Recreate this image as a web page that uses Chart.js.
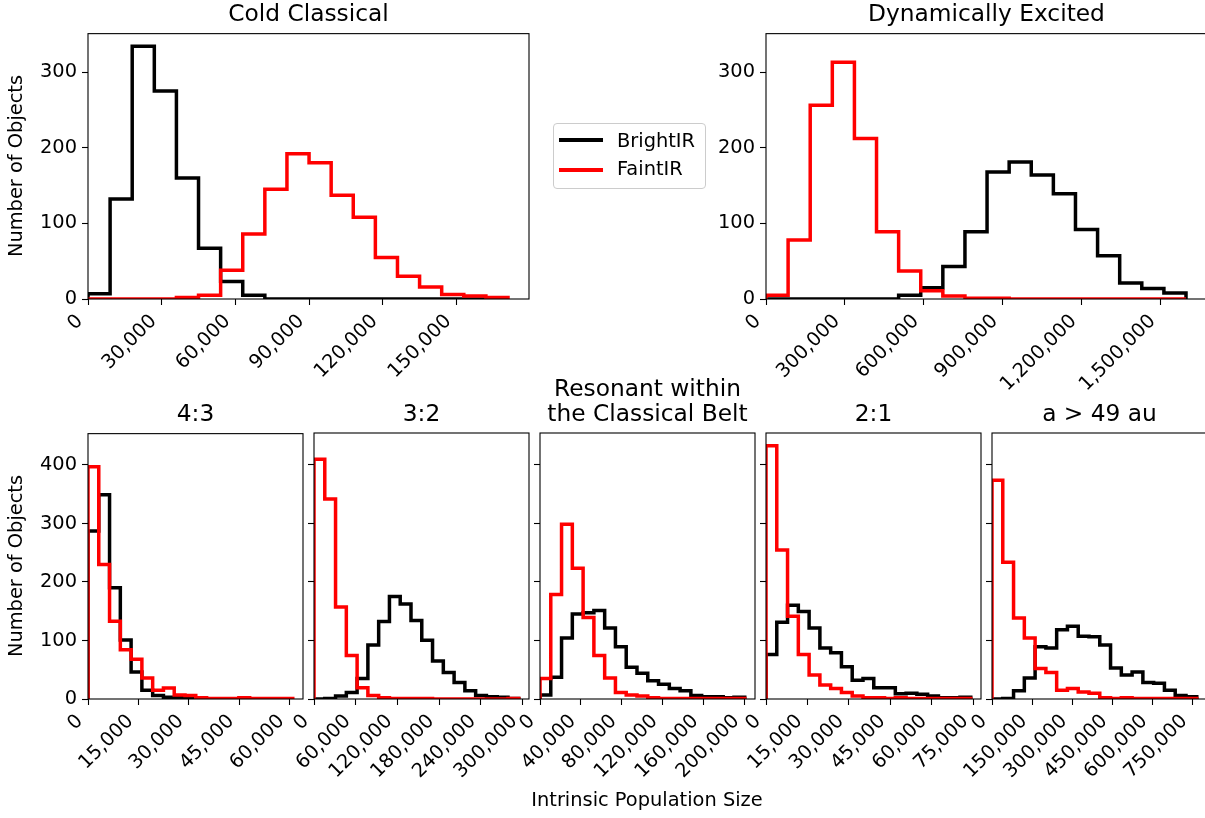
<!DOCTYPE html>
<html>
<head>
<meta charset="utf-8">
<script src="https://cdn.jsdelivr.net/npm/chart.js@4.4.1/dist/chart.umd.min.js"></script>
<style>
  html, body { margin: 0; padding: 0; background: #ffffff; overflow: hidden; }
  #fig { position: relative; width: 1205px; height: 818px; overflow: hidden; font-family: "DejaVu Sans", sans-serif; color: #000; }
  #fig canvas { position: absolute; }
  .txt { position: absolute; white-space: nowrap; line-height: 1; transform: translate(-50%, -50%); }
  .title { font-size: 23.3px; }
  .label { font-size: 19.4px; }
  .ylabel { transform: translate(-50%, -50%) rotate(-90deg); }
  #legend { position: absolute; left: 553px; top: 123px; width: 151px; height: 64px; border: 1px solid #cccccc; border-radius: 4px; background: rgba(255,255,255,0.8); z-index: 5; }
  #legend .handle { position: absolute; left: 5px; width: 44px; height: 4px; }
  #legend .entry { position: absolute; left: 63px; font-size: 19.4px; line-height: 1; transform: translateY(-50%); }
</style>
</head>
<body>
<div id="fig">
  <div id="legend">
    <div class="handle" style="top:14px;background:#000000"></div>
    <div class="entry" style="top:17px">BrightIR</div>
    <div class="handle" style="top:44px;background:#ff0000"></div>
    <div class="entry" style="top:45px">FaintIR</div>
  </div>
</div>
<script>

// HISTOGRAM COUNTS (19 equal bins per panel) //
const coldBright = [7, 132, 334, 275, 160, 67, 23, 5, 0, 0, 0, 0, 0, 0, 0, 0, 0, 0, 0];
const coldFaint = [0, 0, 0, 0, 2, 5, 38, 86, 145, 192, 180, 137, 108, 55, 30, 16, 6, 4, 2];

const excitedBright = [0, 0, 0, 0, 0, 0, 5, 15, 43, 89, 168, 181, 164, 139, 92, 57, 21, 14, 8];
const excitedFaint = [5, 78, 256, 313, 212, 89, 37, 11, 4, 1, 1, 0, 0, 0, 0, 0, 0, 0, 0];

const res43Bright = [287, 349, 190, 101, 46, 15, 6, 3, 2, 1, 1, 0, 0, 0, 0, 0, 0, 0, 0];
const res43Faint = [397, 230, 133, 84, 68, 36, 15, 19, 7, 6, 2, 1, 1, 1, 2, 1, 1, 1, 1];

const res32Bright = [0, 1, 5, 11, 35, 92, 132, 175, 162, 134, 100, 65, 45, 28, 14, 6, 4, 3, 1];
const res32Faint = [409, 341, 157, 74, 19, 6, 2, 1, 1, 1, 1, 0, 0, 0, 0, 0, 0, 0, 1];

const resBeltBright = [7, 37, 104, 145, 147, 151, 121, 89, 54, 44, 31, 25, 18, 14, 6, 4, 4, 2, 3];
const resBeltFaint = [35, 178, 298, 223, 139, 74, 36, 11, 7, 5, 2, 1, 1, 1, 1, 1, 1, 1, 1];

const res21Bright = [76, 131, 160, 149, 121, 87, 79, 55, 32, 35, 19, 19, 9, 10, 8, 5, 2, 2, 3];
const res21Faint = [432, 254, 141, 76, 41, 24, 18, 11, 5, 2, 2, 1, 2, 1, 1, 1, 1, 1, 1];

const farBright = [0, 1, 14, 36, 89, 87, 118, 124, 107, 106, 92, 53, 41, 46, 28, 27, 15, 6, 4];
const farFaint = [373, 233, 138, 104, 52, 45, 15, 18, 12, 10, 2, 1, 2, 1, 1, 1, 1, 1, 1];

// UPPER EDGE OF THE LAST BIN (lower edge is 0) //
const histUpperEdges = [171000, 1596000, 61000, 294600, 200400, 74070, 766000];

// PANEL TITLES //
const panelTitles = ['Cold Classical', 'Dynamically Excited', '4:3', '3:2', 'Resonant within\nthe Classical Belt', '2:1', 'a > 49 au'];

// TICK VALUES //
const coldTicks = [0, 30000, 60000, 90000, 120000, 150000];
const excitedTicks = [0, 300000, 600000, 900000, 1200000, 1500000];
const res43Ticks = [0, 15000, 30000, 45000, 60000];
const res32Ticks = [0, 60000, 120000, 180000, 240000, 300000];
const resBeltTicks = [0, 40000, 80000, 120000, 160000, 200000];
const res21Ticks = [0, 15000, 30000, 45000, 60000, 75000];
const farTicks = [0, 150000, 300000, 450000, 600000, 750000];
const topCountTicks = [0, 100, 200, 300];
const bottomCountTicks = [0, 100, 200, 300, 400];

const seriesLabels = ['BrightIR', 'FaintIR'];
const xAxisLabel = 'Intrinsic Population Size';
const yAxisLabel = 'Number of Objects';

// LAYOUT //
const FONT = 'DejaVu Sans';
const TICK_SIZE = 19.4;
const COLORS = {bright: '#000000', faint: '#ff0000'};

// plot-area rectangles on the page
const AREAS = [
  {left: 88, top: 33, width: 441, height: 266.5},
  {left: 766, top: 33, width: 441, height: 266.5},
  {left: 88, top: 433, width: 215, height: 266.5},
  {left: 314, top: 433, width: 215, height: 266.5},
  {left: 540, top: 433, width: 215, height: 266.5},
  {left: 766, top: 433, width: 215, height: 266.5},
  {left: 992, top: 433, width: 215, height: 266.5}
];

const fig = document.getElementById('fig');

/**
 * axes frame, drawn over the data like matplotlib spines
 */
const framePlugin = {
  id: 'frame',
  afterDraw(chart) {
    const {ctx, chartArea: a} = chart;
    ctx.save();
    ctx.strokeStyle = '#000000';
    ctx.lineWidth = 1.1;
    ctx.strokeRect(a.left, a.top, a.right - a.left, a.bottom - a.top);
    ctx.restore();
  }
};

/**
 * step outline of a histogram: (0,0) up to first bin, across every bin, down at the last edge
 */
function stepPoints(counts, upper) {
  const binWidth = upper / counts.length;
  const points = [{x: 0, y: 0}];
  counts.forEach((count, i) => points.push({x: i * binWidth, y: count}));
  points.push({x: upper, y: 0});
  return points;
}

const fmt = new Intl.NumberFormat('en-US', {maximumFractionDigits: 0});

/**
 *
 * @param {number} index
 * @param {number[]} bright
 * @param {number[]} faint
 * @param {number[]} xTicks
 * @param {number[]} yTicks
 * @param {number} yMax
 * @param {boolean} showYLabels
 */
function makePanel(index, bright, faint, xTicks, yTicks, yMax, showYLabels) {
  const area = AREAS[index];
  const upper = histUpperEdges[index];

  const yWidth = showYLabels ? 88 : 30;
  const padTop = 16;
  const padRight = 20;
  const xHeight = 110;

  const canvas = document.createElement('canvas');
  canvas.width = yWidth + area.width + padRight;
  canvas.height = padTop + area.height + xHeight;
  canvas.style.left = (area.left - yWidth) + 'px';
  canvas.style.top = (area.top - padTop) + 'px';
  canvas.style.width = canvas.width + 'px';
  canvas.style.height = canvas.height + 'px';
  fig.appendChild(canvas);

  const tickGrid = {display: true, drawOnChartArea: false, drawTicks: true, tickLength: 6, tickWidth: 1.1, tickColor: '#000000'};

  new Chart(canvas, {
    type: 'line',
    data: {
      datasets: [
        {label: seriesLabels[0], data: stepPoints(bright, upper), borderColor: COLORS.bright, order: 1},
        {label: seriesLabels[1], data: stepPoints(faint, upper), borderColor: COLORS.faint, order: 0}
      ]
    },
    options: {
      responsive: false,
      animation: false,
      devicePixelRatio: 1,
      layout: {padding: {left: 0, top: padTop, right: padRight, bottom: 0}},
      datasets: {
        line: {stepped: 'before', borderWidth: 3.5, pointRadius: 0, tension: 0, fill: false, clip: 0, borderJoinStyle: 'miter'}
      },
      plugins: {legend: {display: false}, tooltip: {enabled: false}, title: {display: false}},
      scales: {
        x: {
          type: 'linear',
          min: 0,
          max: upper * 1.05,
          border: {display: false},
          grid: tickGrid,
          ticks: {
            autoSkip: false, minRotation: 45, maxRotation: 45, padding: 5, labelOffset: -8,
            color: '#000000', font: {family: FONT, size: TICK_SIZE},
            callback: (v) => fmt.format(v)
          },
          afterBuildTicks: (scale) => { scale.ticks = xTicks.map((value) => ({value})); },
          afterFit: (scale) => { scale.height = xHeight; }
        },
        y: {
          type: 'linear',
          min: 0,
          max: yMax,
          border: {display: false},
          grid: tickGrid,
          ticks: {
            display: showYLabels, padding: 5,
            color: '#000000', font: {family: FONT, size: TICK_SIZE},
            callback: (v) => fmt.format(v)
          },
          afterBuildTicks: (scale) => { scale.ticks = yTicks.map((value) => ({value})); },
          afterFit: (scale) => { scale.width = yWidth; }
        }
      }
    },
    plugins: [framePlugin]
  });

  // TITLE //
  const lines = panelTitles[index].split('\n');
  lines.forEach((line, i) => {
    addText(line, 'title', area.left + area.width / 2, area.top - 20 - (lines.length - 1 - i) * 25.5);
  });
}

function addText(text, cls, x, y) {
  const node = document.createElement('div');
  node.className = 'txt ' + cls;
  node.textContent = text;
  node.style.left = x + 'px';
  node.style.top = y + 'px';
  fig.appendChild(node);
  return node;
}

// shared y limits: tallest bar of the row plus a 5% margin
const topMax = Math.max(...coldBright, ...coldFaint, ...excitedBright, ...excitedFaint) * 1.05;
const bottomMax = Math.max(
  ...res43Bright, ...res43Faint, ...res32Bright, ...res32Faint, ...resBeltBright, ...resBeltFaint,
  ...res21Bright, ...res21Faint, ...farBright, ...farFaint) * 1.05;

makePanel(0, coldBright, coldFaint, coldTicks, topCountTicks, topMax, true);
makePanel(1, excitedBright, excitedFaint, excitedTicks, topCountTicks, topMax, true);
makePanel(2, res43Bright, res43Faint, res43Ticks, bottomCountTicks, bottomMax, true);
makePanel(3, res32Bright, res32Faint, res32Ticks, bottomCountTicks, bottomMax, false);
makePanel(4, resBeltBright, resBeltFaint, resBeltTicks, bottomCountTicks, bottomMax, false);
makePanel(5, res21Bright, res21Faint, res21Ticks, bottomCountTicks, bottomMax, false);
makePanel(6, farBright, farFaint, farTicks, bottomCountTicks, bottomMax, false);

// AXIS LABELS //
addText(yAxisLabel, 'label ylabel', 16, 166);
addText(yAxisLabel, 'label ylabel', 16, 566);
addText(xAxisLabel, 'label', 647, 800);

</script>
</body>
</html>
